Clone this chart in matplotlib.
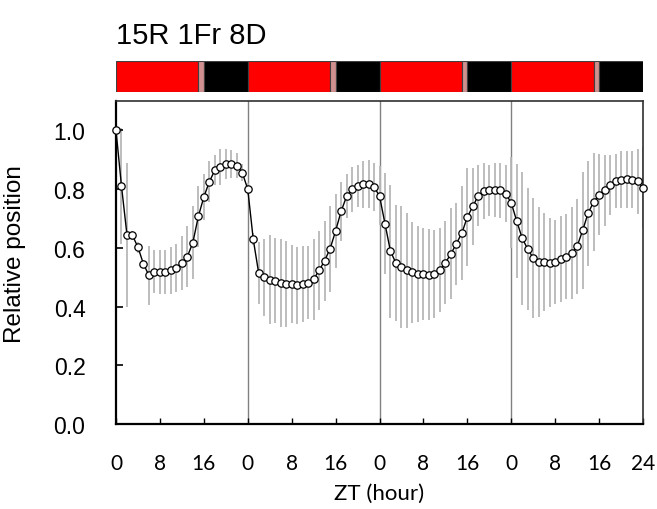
import matplotlib
matplotlib.use("Agg")  # no display
import matplotlib.pyplot as plt

# ZT hours, sampled every hour over 4 days
hours = list(range(97))

position = [
    1.00, 0.81, 0.644, 0.642, 0.602, 0.545, 0.506, 0.519, 0.517, 0.519,
    0.523, 0.532, 0.549, 0.570, 0.618, 0.707, 0.773, 0.825, 0.864, 0.875,
    0.885, 0.885, 0.880, 0.856, 0.800, 0.629, 0.513, 0.499, 0.492, 0.488,
    0.481, 0.477, 0.476, 0.472, 0.477, 0.481, 0.493, 0.523, 0.556, 0.597,
    0.657, 0.724, 0.775, 0.799, 0.811, 0.817, 0.818, 0.807, 0.777, 0.682,
    0.588, 0.548, 0.534, 0.523, 0.516, 0.511, 0.510, 0.509, 0.511, 0.525,
    0.549, 0.579, 0.614, 0.650, 0.705, 0.741, 0.778, 0.793, 0.796, 0.797,
    0.796, 0.784, 0.753, 0.691, 0.632, 0.596, 0.565, 0.552, 0.553, 0.550,
    0.552, 0.562, 0.570, 0.582, 0.605, 0.659, 0.718, 0.756, 0.781, 0.796,
    0.814, 0.827, 0.832, 0.833, 0.832, 0.827, 0.805,
]

position_err = [
    0.000, 0.198, 0.245, 0.015, 0.018, 0.015, 0.100, 0.074, 0.075, 0.075,
    0.081, 0.082, 0.092, 0.104, 0.123, 0.105, 0.077, 0.070, 0.051, 0.060,
    0.050, 0.048, 0.043, 0.030, 0.020, 0.020, 0.106, 0.132, 0.153, 0.144,
    0.149, 0.146, 0.132, 0.131, 0.130, 0.125, 0.138, 0.134, 0.136, 0.146,
    0.125, 0.100, 0.075, 0.077, 0.071, 0.080, 0.082, 0.083, 0.100, 0.172,
    0.226, 0.198, 0.207, 0.196, 0.173, 0.163, 0.156, 0.156, 0.149, 0.143,
    0.142, 0.155, 0.139, 0.160, 0.167, 0.130, 0.104, 0.095, 0.087, 0.091,
    0.094, 0.097, 0.155, 0.195, 0.227, 0.207, 0.205, 0.186, 0.167, 0.152,
    0.144, 0.147, 0.144, 0.156, 0.162, 0.200, 0.179, 0.166, 0.138, 0.121,
    0.103, 0.093, 0.098, 0.098, 0.098, 0.111, 0.138,
]

xtick_hours = list(range(0, 97, 8))
xtick_labels = ["0", "8", "16", "0", "8", "16", "0", "8", "16", "0", "8", "16", "24"]
ytick_values = [0.0, 0.2, 0.4, 0.6, 0.8, 1.0]

# light regime per day: 15 h red, 1 h far-red, 8 h dark
phase_names = ["R", "Fr", "D"]
phase_hours = [15, 1, 8]
phase_colors = ["#ff0000", "#d09090", "#000000"]
n_days = 4
day_starts = [24, 48, 72]

XFONT = ["Lato", "DejaVu Sans"]
plt.rcParams["font.family"] = ["Liberation Sans", "DejaVu Sans"]

W, H = 657, 510
fig = plt.figure(figsize=(W / 100, H / 100), dpi=100)

# light/dark bar on top
bar_ax = fig.add_axes([116 / W, 417 / H, 527 / W, 31 / H])
for d in range(n_days):
    start = 24 * d
    for name, h, c in zip(phase_names, phase_hours, phase_colors):
        bar_ax.barh(0, h, left=start, height=1, color=c, edgecolor="#404040", linewidth=0.8)
        start += h
bar_ax.set_xlim(0, 96)
bar_ax.set_ylim(-0.5, 0.5)
bar_ax.axis("off")

fig.text(116 / W, 1 - 36 / H, "15R 1Fr 8D", fontsize=21, ha="left", va="center")

ax = fig.add_axes([116 / W, 85 / H, 527 / W, 323 / H])
for d in day_starts:
    ax.axvline(d, color="#808080", linewidth=1, zorder=0)

ax.errorbar(hours, position, yerr=position_err, fmt="none", ecolor="#b8b8b8",
            elinewidth=1.3, capsize=0, zorder=1)
ax.plot(hours, position, color="black", linewidth=1, marker="o", markersize=5.3,
        markerfacecolor="white", markeredgecolor="black", markeredgewidth=0.9,
        zorder=3, clip_on=False)

ax.set_xlim(0, 96)
ax.set_ylim(0, 1.1)
ax.set_yticks(ytick_values)
ax.set_yticklabels([f"{v:.1f}" for v in ytick_values])
ax.set_xticks(xtick_hours)
ax.set_xticklabels(xtick_labels, family=XFONT)

ax.tick_params(axis="y", direction="in", length=5, width=1.2, pad=22, labelsize=16.5)
ax.tick_params(axis="x", direction="in", length=4, width=1, pad=21, labelsize=15)

for side in ["left", "bottom"]:
    ax.spines[side].set_linewidth(1.6)
    ax.spines[side].set_color("black")
for side in ["top", "right"]:
    ax.spines[side].set_linewidth(1.2)
    ax.spines[side].set_color("#303030")

ax.set_xlabel("ZT (hour)", fontsize=16, family=XFONT, labelpad=7)
ax.set_ylabel("Relative position", fontsize=17.5)
ax.yaxis.set_label_coords(-0.17, 0.53)

fig.savefig("out.png", dpi=100)
